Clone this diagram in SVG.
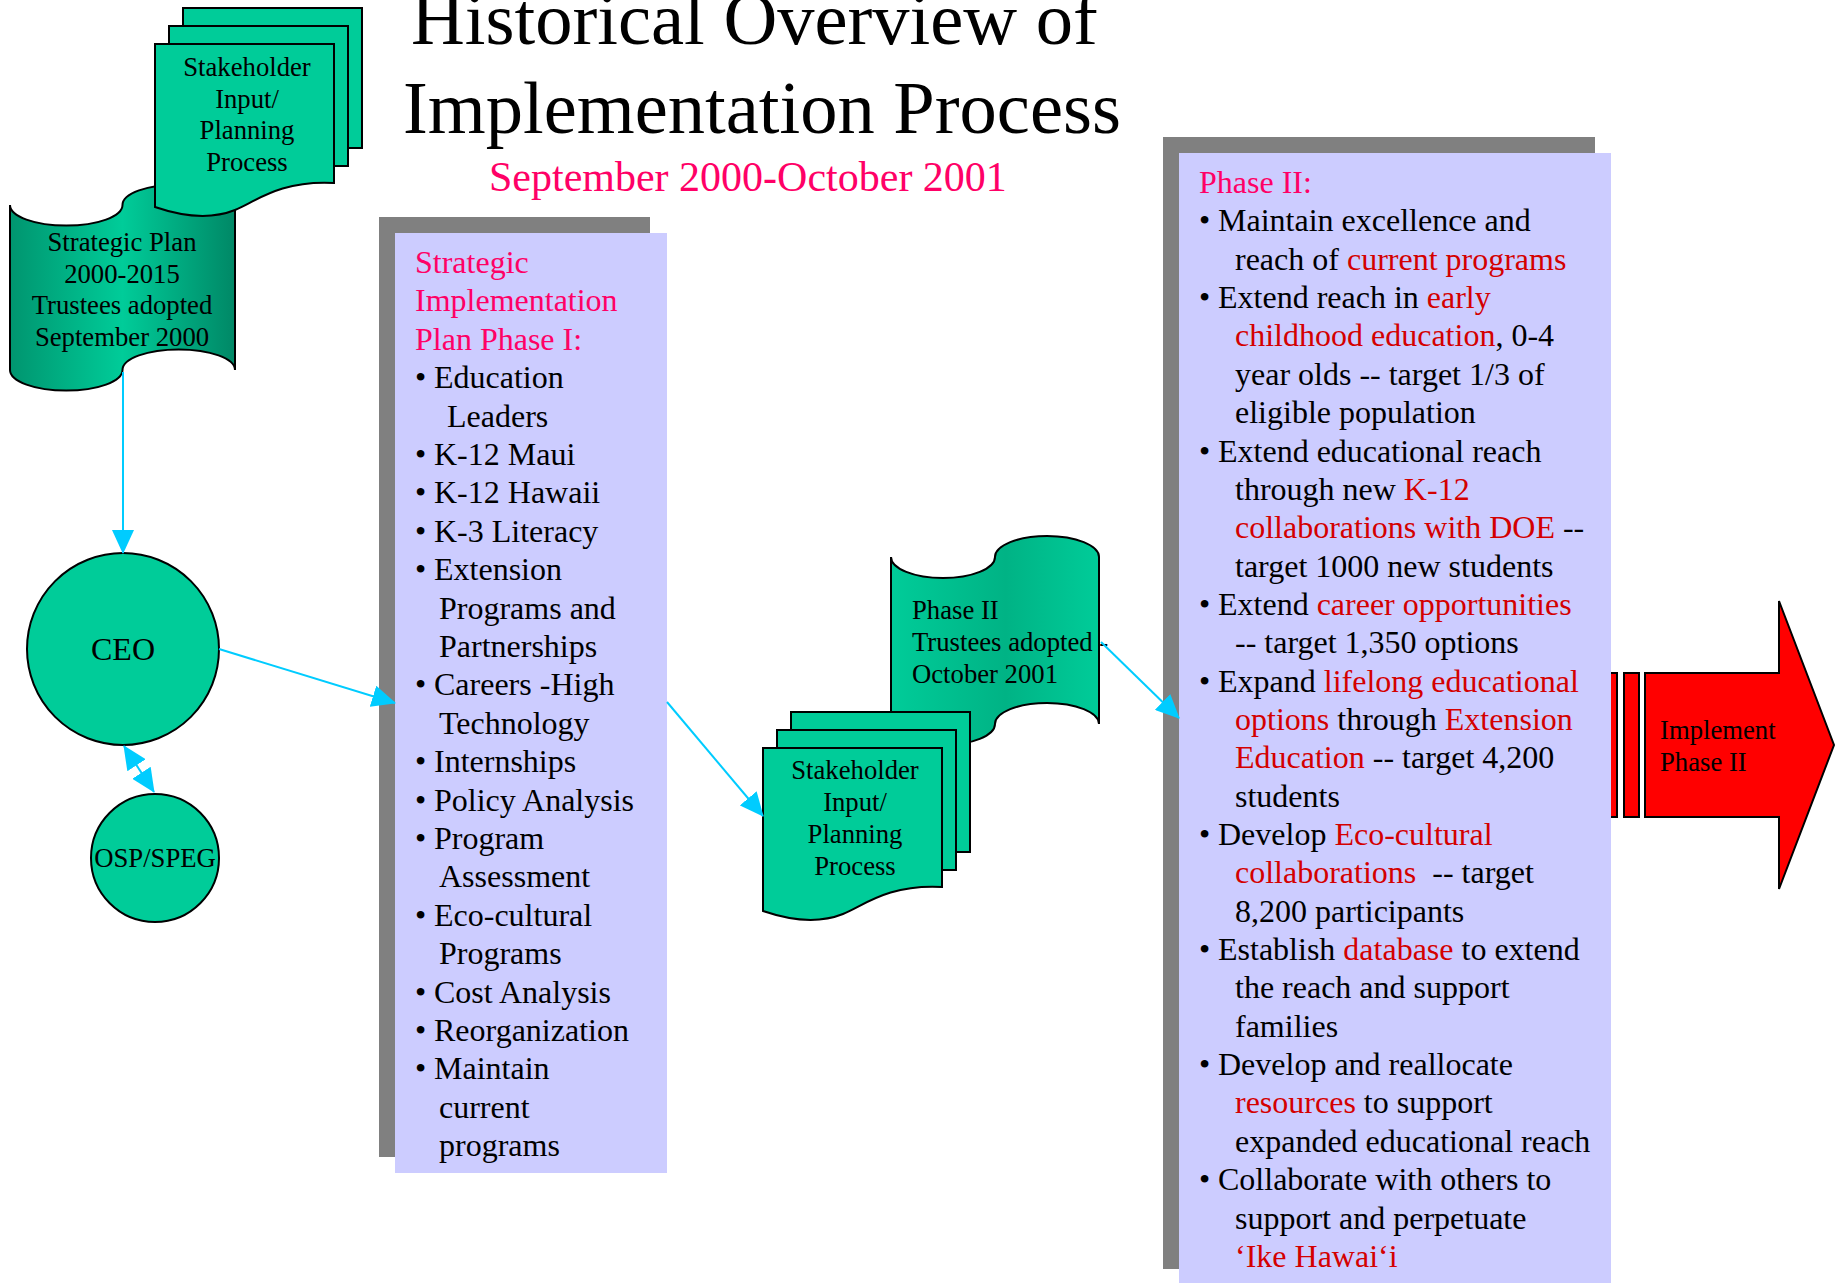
<svg xmlns="http://www.w3.org/2000/svg" xmlns:xlink="http://www.w3.org/1999/xlink" width="1837" height="1283" viewBox="0 0 1837 1283">
<style>
text{font-family:"Liberation Serif","Times New Roman",serif;fill:#000;}
.s27{font-size:26.7px;}
.s32{font-size:32px;}
.pk{fill:#FF0066;}
.rd{fill:#D40000;}
.shape{stroke:#000;stroke-width:2;}
.green{fill:#00CC99;}
.conn{stroke:#00CCFF;stroke-width:2;fill:none;}
.mid{text-anchor:middle;}
</style>
<defs>
<linearGradient id="gScroll1" x1="0" y1="0" x2="1" y2="0">
<stop offset="0" stop-color="#00956F"/>
<stop offset="0.5" stop-color="#00CC99"/>
<stop offset="1" stop-color="#008866"/>
</linearGradient>
<linearGradient id="gScroll2" x1="0" y1="0" x2="1" y2="0">
<stop offset="0" stop-color="#00CC99"/>
<stop offset="0.55" stop-color="#00B385"/>
<stop offset="1" stop-color="#00CC99"/>
</linearGradient>
<marker id="ah" markerUnits="userSpaceOnUse" markerWidth="24" markerHeight="22" refX="23" refY="11" orient="auto-start-reverse">
<path d="M0,0 L24,11 L0,22 Z" fill="#00CCFF"/>
</marker>
<g id="stackShape">
<rect class="shape green" x="28" y="-36" width="179" height="140"/>
<rect class="shape green" x="14" y="-18" width="179" height="140"/>
<path class="shape green" d="M0,0 H179 V139 C125,136 100,158 80,166 C60,174 35,175 0,163 Z"/>
</g>
</defs>
<rect x="0" y="0" width="1837" height="1283" fill="#FFFFFF"/>

<g id="title">
<text x="411" y="44" style="font-size:74.5px">Historical Overview of</text>
<text x="403" y="133" style="font-size:74.5px">Implementation Process</text>
<text x="489" y="191" class="pk" style="font-size:42px">September 2000-October 2001</text>
</g>

<g id="strategic-plan">
<path class="shape" fill="url(#gScroll1)" d="M10,205 A56.25,20.6 0 0 0 122.5,205 A56.25,20.6 0 0 1 235,205 V370 A56.25,20.6 0 0 0 122.5,370 A56.25,20.6 0 0 1 10,370 Z"/>
<text class="s27 mid" x="122" y="251">Strategic Plan</text>
<text class="s27 mid" x="122" y="283">2000-2015</text>
<text class="s27 mid" x="122" y="314">Trustees adopted</text>
<text class="s27 mid" x="122" y="346">September 2000</text>
</g>

<g id="stakeholder-1" transform="translate(155,44)">
<use xlink:href="#stackShape" href="#stackShape"/>
<text class="s27 mid" x="92" y="32">Stakeholder</text>
<text class="s27 mid" x="92" y="64">Input/</text>
<text class="s27 mid" x="92" y="95">Planning</text>
<text class="s27 mid" x="92" y="127">Process</text>
</g>

<g id="ceo">
<circle class="shape green" cx="123" cy="649" r="96"/>
<text class="s32 mid" x="123" y="660">CEO</text>
</g>

<g id="osp-speg">
<circle class="shape green" cx="155" cy="858" r="64"/>
<text class="s27 mid" x="155" y="867">OSP/SPEG</text>
</g>

<g id="phase1">
<rect x="379" y="217" width="271" height="940" fill="#808080"/>
<rect x="395" y="233" width="272" height="940" fill="#CCCCFF"/>
<g class="s32">
<text x="415" y="273" class="pk">Strategic</text>
<text x="415" y="311.4" class="pk">Implementation</text>
<text x="415" y="349.8" class="pk">Plan Phase I:</text>
<text y="388.2"><tspan x="415">•</tspan><tspan x="434">Education</tspan></text>
<text x="447" y="426.6">Leaders</text>
<text y="465"><tspan x="415">•</tspan><tspan x="434">K-12 Maui</tspan></text>
<text y="503.4"><tspan x="415">•</tspan><tspan x="434">K-12 Hawaii</tspan></text>
<text y="541.8"><tspan x="415">•</tspan><tspan x="434">K-3 Literacy</tspan></text>
<text y="580.2"><tspan x="415">•</tspan><tspan x="434">Extension</tspan></text>
<text x="439" y="618.6">Programs and</text>
<text x="439" y="657">Partnerships</text>
<text y="695.4"><tspan x="415">•</tspan><tspan x="434">Careers -High</tspan></text>
<text x="439" y="733.8">Technology</text>
<text y="772.2"><tspan x="415">•</tspan><tspan x="434">Internships</tspan></text>
<text y="810.6"><tspan x="415">•</tspan><tspan x="434">Policy Analysis</tspan></text>
<text y="849"><tspan x="415">•</tspan><tspan x="434">Program</tspan></text>
<text x="439" y="887.4">Assessment</text>
<text y="925.8"><tspan x="415">•</tspan><tspan x="434">Eco-cultural</tspan></text>
<text x="439" y="964.2">Programs</text>
<text y="1002.6"><tspan x="415">•</tspan><tspan x="434">Cost Analysis</tspan></text>
<text y="1041"><tspan x="415">•</tspan><tspan x="434">Reorganization</tspan></text>
<text y="1079.4"><tspan x="415">•</tspan><tspan x="434">Maintain</tspan></text>
<text x="439" y="1117.8">current</text>
<text x="439" y="1156.2">programs</text>
</g>
</g>

<g id="phase2-adopted">
<path class="shape" fill="url(#gScroll2)" d="M891,557 A52,21 0 0 0 995,557 A52,21 0 0 1 1099,557 V724 A52,21 0 0 0 995,724 A52,21 0 0 1 891,724 Z"/>
<text class="s27" x="912" y="619">Phase II</text>
<text class="s27" x="912" y="651">Trustees adopted -</text>
<text class="s27" x="912" y="683">October 2001</text>
</g>

<g id="stakeholder-2" transform="translate(763,748)">
<use xlink:href="#stackShape" href="#stackShape"/>
<text class="s27 mid" x="92" y="31">Stakeholder</text>
<text class="s27 mid" x="92" y="63">Input/</text>
<text class="s27 mid" x="92" y="95">Planning</text>
<text class="s27 mid" x="92" y="127">Process</text>
</g>

<g id="implement-arrow">
<rect class="shape" fill="#FF0000" x="1604" y="673" width="13" height="144"/>
<rect class="shape" fill="#FF0000" x="1624" y="673" width="15" height="144"/>
<path class="shape" fill="#FF0000" d="M1645,673 H1779 V601 L1834,745 L1779,889 V817 H1645 Z"/>
<text class="s27" x="1660" y="739">Implement</text>
<text class="s27" x="1660" y="771">Phase II</text>
</g>

<g id="phase2">
<rect x="1163" y="137" width="432" height="1132" fill="#808080"/>
<rect x="1179" y="153" width="432" height="1130" fill="#CCCCFF"/>
<g class="s32">
<text x="1199" y="193" class="pk">Phase II:</text>
<text y="231.4"><tspan x="1199">•</tspan><tspan x="1218">Maintain excellence and</tspan></text>
<text x="1235" y="269.7">reach of <tspan class="rd">current programs</tspan></text>
<text y="308.1"><tspan x="1199">•</tspan><tspan x="1218">Extend reach in </tspan><tspan class="rd">early</tspan></text>
<text x="1235" y="346.4"><tspan class="rd">childhood education</tspan>, 0-4</text>
<text x="1235" y="384.8">year olds -- target 1/3 of</text>
<text x="1235" y="423.1">eligible population</text>
<text y="461.5"><tspan x="1199">•</tspan><tspan x="1218">Extend educational reach</tspan></text>
<text x="1235" y="499.8">through new <tspan class="rd">K-12</tspan></text>
<text x="1235" y="538.2"><tspan class="rd">collaborations with DOE</tspan> --</text>
<text x="1235" y="576.5">target 1000 new students</text>
<text y="614.9"><tspan x="1199">•</tspan><tspan x="1218">Extend </tspan><tspan class="rd">career opportunities</tspan></text>
<text x="1235" y="653.2">-- target 1,350 options</text>
<text y="691.6"><tspan x="1199">•</tspan><tspan x="1218">Expand </tspan><tspan class="rd">lifelong educational</tspan></text>
<text x="1235" y="729.9"><tspan class="rd">options</tspan> through <tspan class="rd">Extension</tspan></text>
<text x="1235" y="768.3"><tspan class="rd">Education</tspan> -- target 4,200</text>
<text x="1235" y="806.6">students</text>
<text y="845"><tspan x="1199">•</tspan><tspan x="1218">Develop </tspan><tspan class="rd">Eco-cultural</tspan></text>
<text x="1235" y="883.3" xml:space="preserve"><tspan class="rd">collaborations</tspan>  -- target</text>
<text x="1235" y="921.7">8,200 participants</text>
<text y="960"><tspan x="1199">•</tspan><tspan x="1218">Establish </tspan><tspan class="rd">database</tspan> to extend</text>
<text x="1235" y="998.4">the reach and support</text>
<text x="1235" y="1036.7">families</text>
<text y="1075.1"><tspan x="1199">•</tspan><tspan x="1218">Develop and reallocate</tspan></text>
<text x="1235" y="1113.4"><tspan class="rd">resources</tspan> to support</text>
<text x="1235" y="1151.8">expanded educational reach</text>
<text y="1190.1"><tspan x="1199">•</tspan><tspan x="1218">Collaborate with others to</tspan></text>
<text x="1235" y="1228.5">support and perpetuate</text>
<text x="1235" y="1266.8" class="rd">‘Ike Hawai‘i</text>
</g>
</g>

<g id="connectors">
<line class="conn" x1="123" y1="372" x2="123" y2="553" marker-end="url(#ah)"/>
<line class="conn" x1="219" y1="649" x2="395" y2="703" marker-end="url(#ah)"/>
<line class="conn" x1="124" y1="746" x2="154" y2="792" marker-start="url(#ah)" marker-end="url(#ah)"/>
<line class="conn" x1="667" y1="702" x2="763" y2="816" marker-end="url(#ah)"/>
<line class="conn" x1="1101" y1="642" x2="1179" y2="718" marker-end="url(#ah)"/>
</g>
</svg>
